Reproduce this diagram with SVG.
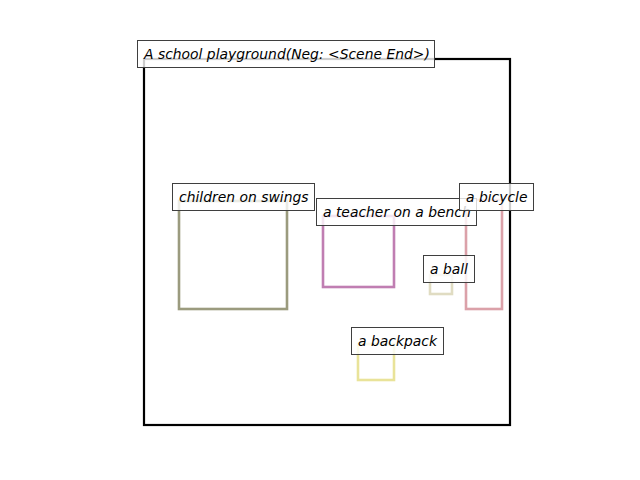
<svg xmlns="http://www.w3.org/2000/svg" width="640" height="480" viewBox="0 0 640 480">
  <style>
    .frame { fill: none; stroke: #000000; stroke-width: 2.2; }
    .obj { fill: none; stroke-width: 2.6; }
    .tag rect { fill: #ffffff; fill-opacity: 0.8; stroke: #3f3f3f; stroke-width: 1; }
    .tag text { font-family: "DejaVu Sans", sans-serif; font-style: oblique; font-size: 13.9px; fill: #000000; }
  </style>
  <rect width="640" height="480" fill="#ffffff"/>

  <!-- scene frame -->
  <rect id="scene" class="frame" x="144" y="59" width="366" height="366"/>

  <!-- object regions -->
  <g id="children-on-swings"><rect class="obj" stroke="#9b9b7e" x="179" y="201" width="108" height="108"/></g>
  <g id="teacher-on-bench"><rect class="obj" stroke="#c07eb2" x="323" y="216" width="71" height="71"/></g>
  <g id="bicycle"><rect class="obj" stroke="#dba1a9" x="466" y="200" width="36" height="109"/></g>
  <g id="ball"><rect class="obj" stroke="#e0dcc2" x="430" y="275" width="22" height="19"/></g>
  <g id="backpack"><rect class="obj" stroke="#e9e399" x="358" y="344" width="36" height="36"/></g>

  <!-- labels -->
  <g class="tag" id="label-scene">
    <rect x="137.5" y="40.5" width="297" height="27"/>
    <text x="144" y="58.5">A school playground(Neg: &lt;Scene End&gt;)</text>
  </g>
  <g class="tag" id="label-swings">
    <rect x="172.5" y="183.5" width="142" height="27"/>
    <text x="179" y="201.5">children on swings</text>
  </g>
  <g class="tag" id="label-teacher">
    <rect x="316.5" y="198.5" width="160" height="27"/>
    <text x="323" y="216.5">a teacher on a bench</text>
  </g>
  <g class="tag" id="label-bicycle">
    <rect x="459.5" y="183.5" width="74" height="27"/>
    <text x="466" y="201.5">a bicycle</text>
  </g>
  <g class="tag" id="label-ball">
    <rect x="423.5" y="255.5" width="51" height="27"/>
    <text x="430" y="273.5">a ball</text>
  </g>
  <g class="tag" id="label-backpack">
    <rect x="351.5" y="327.5" width="92" height="27"/>
    <text x="358" y="345.5">a backpack</text>
  </g>
</svg>
